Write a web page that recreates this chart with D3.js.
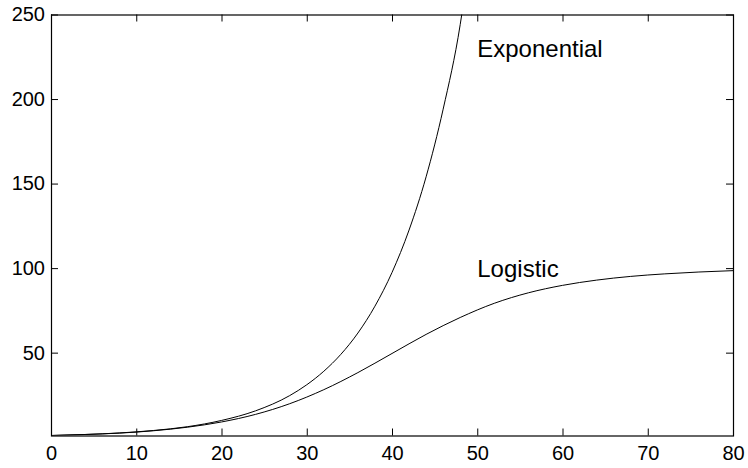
<!DOCTYPE html>
<html>
<head>
<meta charset="utf-8">
<script src="https://cdn.jsdelivr.net/npm/d3@7"></script>
<style>
  body { margin: 0; background: #fff; }
  svg { display: block; font-family: "Liberation Sans", Arial, Helvetica, sans-serif; }
</style>
</head>
<body>
<div id="vizArea"></div>
<script>

var w = 748
var h = 468

// DATA ********************************
var xTicks = [0, 10, 20, 30, 40, 50, 60, 70, 80]
var yTicks = [50, 100, 150, 200, 250]

// values
var expT   = [0, 4, 8, 12, 16, 20, 24, 28, 30, 32, 34, 36, 38, 40, 42, 44, 46, 48, 49]
var expVal = [1, 1.6, 2.5, 3.95, 6.2, 9.9, 15.6, 24.6, 31, 39, 49, 61.6, 77.5, 97.4, 122.5, 154, 194, 244, 279]

var logT   = [0, 4, 8, 12, 16, 20, 24, 28, 32, 36, 40, 44, 48, 52, 56, 60, 64, 68, 72, 76, 80]
var logVal = [1, 1.6, 2.4, 3.8, 5.9, 9.0, 13.5, 19.8, 28.1, 38.2, 49.5, 60.8, 70.8, 79.2, 85.4, 89.8, 92.9, 95.1, 96.6, 97.7, 98.5]

var labels = [
    {text: "Exponential", x: 50, y: 230},
    {text: "Logistic", x: 50, y: 100}
]

// SCALES ********************************
var x = d3.scaleLinear().domain([0, 80]).range([51, 733])
var y = d3.scaleLinear().domain([1, 250]).range([435.5, 14.5])

var svg = d3.select("#vizArea").append("svg")
    .attr("width", w)
    .attr("height", h)

svg.append("defs").append("clipPath").attr("id", "plotClip")
    .append("rect")
    .attr("x", x(0)).attr("y", y(250))
    .attr("width", x(80) - x(0)).attr("height", y(1) - y(250))

// AXES (ticks point inward, mirrored on all four sides) *********
function styleAxis(g) {
    g.select(".domain").remove()
    g.selectAll(".tick line").attr("stroke", "#000")
    g.selectAll(".tick text")
        .attr("fill", "#000")
        .style("font-size", "20px")
        .style("font-family", "'Liberation Sans', Arial, sans-serif")
}

svg.append("g")
    .attr("transform", "translate(0," + y(1) + ")")
    .call(d3.axisBottom(x).tickValues(xTicks).tickSizeInner(-7).tickSizeOuter(0).tickPadding(10))
    .call(styleAxis)

svg.append("g")
    .attr("transform", "translate(0," + y(250) + ")")
    .call(d3.axisTop(x).tickValues(xTicks).tickSizeInner(-7).tickSizeOuter(0).tickFormat(""))
    .call(styleAxis)

svg.append("g")
    .attr("transform", "translate(" + x(0) + ",0)")
    .call(d3.axisLeft(y).tickValues(yTicks).tickSizeInner(-7).tickSizeOuter(0).tickPadding(6))
    .call(styleAxis)

svg.append("g")
    .attr("transform", "translate(" + x(80) + ",0)")
    .call(d3.axisRight(y).tickValues(yTicks).tickSizeInner(-7).tickSizeOuter(0).tickFormat(""))
    .call(styleAxis)

// box around the plot
svg.append("rect")
    .attr("x", x(0) + 0.5).attr("y", y(250) + 0.5)
    .attr("width", x(80) - x(0)).attr("height", y(1) - y(250))
    .attr("fill", "none")
    .attr("stroke", "#000")
    .attr("stroke-width", 1.2)

// CURVES ********************************
var line = d3.line()
    .x(function(d){ return x(d[0]) })
    .y(function(d){ return y(d[1]) })
    .curve(d3.curveMonotoneX)

var curves = svg.append("g").attr("clip-path", "url(#plotClip)")

curves.append("path")
    .datum(d3.zip(expT, expVal))
    .attr("d", line)
    .attr("fill", "none")
    .attr("stroke", "#000")
    .attr("stroke-width", 1)

curves.append("path")
    .datum(d3.zip(logT, logVal))
    .attr("d", line)
    .attr("fill", "none")
    .attr("stroke", "#000")
    .attr("stroke-width", 1)

// LABELS ********************************
svg.selectAll(".curveLabel")
    .data(labels)
    .enter()
    .append("text")
    .attr("class", "curveLabel")
    .attr("x", function(d){ return x(d.x) })
    .attr("y", function(d){ return y(d.y) + 8.5 })
    .style("font-size", "24px")
    .attr("fill", "#000")
    .text(function(d){ return d.text })

</script>
</body>
</html>
